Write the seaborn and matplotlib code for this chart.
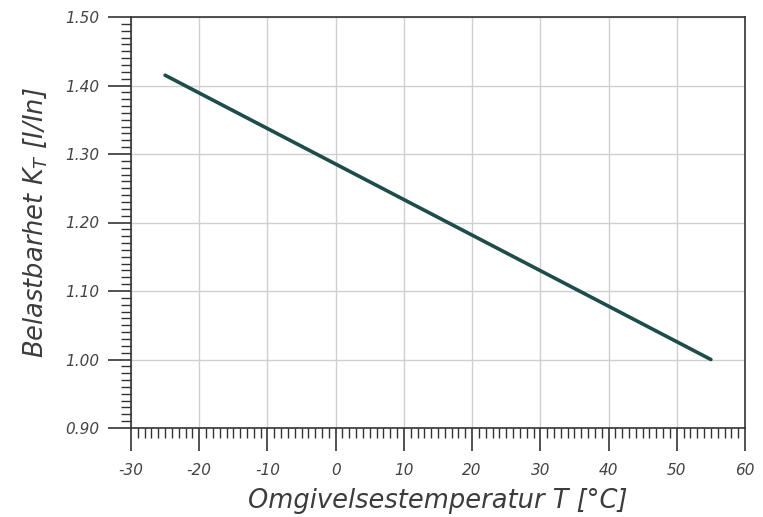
import matplotlib
matplotlib.use("Agg")
import matplotlib.pyplot as plt
from matplotlib.ticker import MultipleLocator, FormatStrFormatter
import seaborn as sns
import pandas as pd

temperature = [-25, 55]
load_factor = [1.415, 1.00]
x_ticks = [-30, -20, -10, 0, 10, 20, 30, 40, 50, 60]
y_ticks = [0.90, 1.00, 1.10, 1.20, 1.30, 1.40, 1.50]

df = pd.DataFrame({"T": temperature, "K": load_factor})

sns.set_theme(style="white")
plt.rcParams['font.family'] = ['DejaVu Sans']
plt.rcParams['mathtext.fontset'] = 'dejavusans'

fig = plt.figure(figsize=(7.63, 5.17), dpi=100)
ax = fig.add_axes([131/763, 1-428/517, (745-131)/763, (428-17)/517])

sns.lineplot(data=df, x="T", y="K", ax=ax, color="#1d4d4a", linewidth=2.6)

ax.set_xlim(-30, 60)
ax.set_ylim(0.90, 1.50)
ax.set_xticks(x_ticks)
ax.set_yticks(y_ticks)
ax.xaxis.set_minor_locator(MultipleLocator(1))
ax.yaxis.set_minor_locator(MultipleLocator(0.01))
ax.yaxis.set_major_formatter(FormatStrFormatter('%.2f'))
ax.xaxis.set_major_formatter(FormatStrFormatter('%d'))

ax.grid(True, which='major', color="#cfcfcf", linewidth=1.0)
ax.set_axisbelow(True)

for s in ax.spines.values():
    s.set_visible(True)
    s.set_color("#333333")
    s.set_linewidth(1.2)

ax.tick_params(which='major', direction='out', length=16.5, width=1.2, color="#333333",
               labelsize=11, labelcolor="#444444")
ax.tick_params(which='minor', direction='out', length=7.5, width=1.0, color="#333333")
ax.tick_params(axis='x', which='major', pad=9)
ax.tick_params(axis='y', which='major', pad=6)
ax.tick_params(axis='x', which='both', bottom=True, top=False)
ax.tick_params(axis='y', which='both', left=True, right=False)
for lab in ax.get_xticklabels() + ax.get_yticklabels():
    lab.set_fontstyle('italic')

ax.set_xlabel("Omgivelsestemperatur T [°C]", fontsize=18.5, fontstyle='italic', color="#3c3c3c", labelpad=7)
ax.set_ylabel(r"Belastbarhet $\mathit{K}_{\mathit{T}}$ [I/In]", fontsize=18.5, fontstyle='italic', color="#3c3c3c", labelpad=12)

fig.savefig("out.png", dpi=100)
